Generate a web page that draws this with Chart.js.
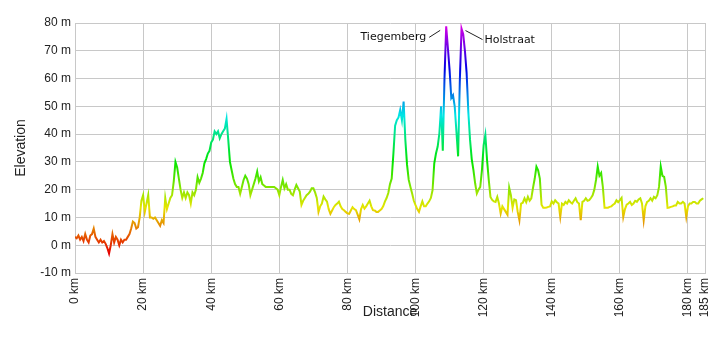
<!DOCTYPE html>
<html>
<head>
<meta charset="utf-8">
<script src="https://cdn.jsdelivr.net/npm/chart.js@4"></script>
<style>
  html, body { margin: 0; padding: 0; background: #fff; }
  #wrap { width: 720px; height: 344px; position: relative; }
</style>
</head>
<body>
<div id="wrap"><canvas id="chart"></canvas></div>
<script>
// Elevation profile, one value every half kilometre
const STEP_KM = 0.5;
const elevation = [
    3, 2.5, 3.5, 2, 3, 1.5, 4, 2, 1, 3.5, 4, 6, 3, 2, 1, 2, 1, 1.5, 0.5, -1,
    -3, 0, 4, 1, 3, 2, 0, 2, 1, 2, 2, 3, 4, 6, 8.5, 8, 6, 6.5, 10, 16,
    18, 12, 15, 18, 10, 10, 9.5, 10, 9, 8, 7, 9, 8, 17, 13, 15, 17, 18, 23, 30,
    28, 24, 20, 17, 19, 17, 19, 18, 15, 19, 18, 20, 24.5, 22.5, 24, 26, 29.5, 31, 33, 34,
    37, 38, 41, 40, 41, 38.5, 40, 41, 42, 45.5, 38, 30, 27, 24, 22, 21, 21, 18.5, 21, 23.5,
    25, 24, 22, 18, 20, 22, 24, 26.5, 23, 24.5, 22, 21.5, 21, 21, 21, 21, 21, 21, 20.5, 20,
    18, 21, 23.5, 20.5, 22, 20, 20, 18.5, 18, 20, 21.7, 20.5, 19.3, 14.5, 16, 17, 18, 18.5, 19.3, 20.5,
    20.5, 19, 17, 12, 14, 15, 17.5, 16.5, 15.7, 13, 11.3, 12.5, 13.7, 14.5, 15, 15.7, 14, 13, 12.6, 12,
    11.5, 11.3, 12.5, 13.7, 13, 12.6, 11, 9.3, 13, 14.5, 13.2, 14, 15, 16, 14, 12.6, 12.5, 12, 12, 12.5,
    13, 14, 15.7, 17, 18.8, 22, 24, 33, 43, 45, 46, 48.7, 45, 51.7, 38, 29, 23.5, 21, 18.6, 16,
    14.4, 13, 12, 14, 15.8, 14, 14, 15, 15.8, 17, 19.8, 29.5, 33, 35.5, 40.3, 50, 34, 60, 78.8, 71,
    63, 53, 54, 50, 41, 32, 59, 78, 76, 70, 62, 48, 38, 31, 27, 22.3, 18.6, 20, 21, 27,
    36, 39.7, 30.7, 23.5, 17.4, 16.3, 15.8, 15.6, 17.4, 15, 11.4, 14, 13, 12, 11, 20.7, 18, 13.5, 16.5, 16.2,
    12, 9, 15, 15.3, 16.9, 15.5, 17.4, 16, 16.9, 20.7, 24, 28.3, 27, 24, 14.6, 13.5, 13.5, 13.6, 13.8, 14,
    15.8, 15, 16.2, 15.5, 15, 10.2, 15, 14.5, 15.6, 15, 16.2, 15.5, 15, 16, 16.9, 15.5, 15, 9, 15.6, 16,
    16.9, 16, 16.2, 17, 18, 20, 23.5, 28.3, 25, 26, 21, 13.5, 13.5, 13.5, 13.8, 14, 14.6, 15, 16.2, 15.5,
    16.2, 17, 10.2, 13, 14.6, 15, 15.6, 14.5, 15, 16, 15.6, 16.5, 16.9, 15, 9, 14, 15.6, 16, 16.9, 16,
    17.4, 16.9, 18, 21, 28.3, 25, 24.6, 21, 13.5, 13.6, 13.8, 14, 14.3, 14.3, 15.6, 15, 15, 15.6, 15, 10.2,
    14, 15, 15, 15.6, 15.6, 15, 15, 16, 16.5, 16.9
];

const xTicks = [0, 20, 40, 60, 80, 100, 120, 140, 160, 180, 185];
const yMin = -10;
const yMax = 80;

// named summits
const peakNames = ['Tiegemberg', 'Holstraat'];
const peakKm = [109, 113.5];
const peakElev = [78.8, 78];
const peakSide = ['left', 'right'];

const points = elevation.map((e, i) => ({ x: i * STEP_KM, y: e }));

// colour runs from red at the lowest point to magenta at the highest
const colourLow = -3;
const colourHigh = 80;

let gradCache = null;
function lineGradient(context) {
    const chart = context.chart;
    const area = chart.chartArea;
    if (!area) return '#e00000';
    const y = chart.scales.y;
    const y0 = y.getPixelForValue(colourLow);
    const y1 = y.getPixelForValue(colourHigh);
    if (gradCache && gradCache.y0 === y0 && gradCache.y1 === y1) return gradCache.g;
    const g = chart.ctx.createLinearGradient(0, y0, 0, y1);
    for (let h = 0; h <= 300; h += 15) {
        g.addColorStop(h / 300, `hsl(${h}, 100%, 45%)`);
    }
    gradCache = { y0, y1, g };
    return g;
}

const peakLabels = {
    id: 'peakLabels',
    afterDatasetsDraw(chart) {
        const { ctx, scales } = chart;
        ctx.save();
        ctx.font = '11px "DejaVu Sans"';
        ctx.fillStyle = '#111';
        ctx.strokeStyle = '#222';
        ctx.lineWidth = 1;
        ctx.textBaseline = 'middle';
        peakNames.forEach((name, i) => {
            const px = scales.x.getPixelForValue(peakKm[i]);
            const py = scales.y.getPixelForValue(peakElev[i]);
            ctx.beginPath();
            if (peakSide[i] === 'left') {
                ctx.moveTo(px - 6, py + 4);
                ctx.lineTo(px - 17, py + 11);
                ctx.stroke();
                ctx.textAlign = 'right';
                ctx.fillText(name, px - 20, py + 11);
            } else {
                ctx.moveTo(px + 4, py + 2);
                ctx.lineTo(px + 21, py + 11);
                ctx.stroke();
                ctx.textAlign = 'left';
                ctx.fillText(name, px + 23, py + 12);
            }
        });
        ctx.restore();
    }
};

const gridColor = '#c8c8c8';
const textColor = '#222';

new Chart(document.getElementById('chart'), {
    type: 'line',
    data: {
        datasets: [{
            data: points,
            borderColor: lineGradient,
            borderWidth: 2,
            pointRadius: 0,
            tension: 0,
            fill: false
        }]
    },
    options: {
        responsive: true,
        maintainAspectRatio: false,
        animation: false,
        parsing: false,
        layout: { padding: { top: 23, right: 15, left: 0, bottom: 0 } },
        plugins: {
            legend: { display: false },
            tooltip: { enabled: false }
        },
        scales: {
            x: {
                type: 'linear',
                min: 0,
                max: 185,
                afterBuildTicks: scale => {
                    scale.ticks = xTicks.map(v => ({ value: v }));
                },
                afterFit: scale => {
                    scale.height = 71;
                    scale.paddingLeft = 0;
                    scale.paddingRight = 0;
                },
                grid: { color: gridColor, drawTicks: false },
                border: { color: gridColor },
                ticks: {
                    autoSkip: false,
                    maxRotation: 90,
                    minRotation: 90,
                    padding: 5,
                    color: textColor,
                    font: { family: '"Liberation Sans", Arial', size: 12 },
                    callback: v => v + ' km'
                },
                title: {
                    display: true,
                    text: 'Distance',
                    color: textColor,
                    font: { family: '"Liberation Sans", Arial', size: 14 },
                    padding: { top: 0, bottom: 23 }
                }
            },
            y: {
                min: yMin,
                max: yMax,
                afterFit: scale => { scale.width = 75; },
                grid: { color: gridColor, drawTicks: false },
                border: { color: gridColor },
                ticks: {
                    stepSize: 10,
                    padding: 4,
                    color: textColor,
                    font: { family: '"Liberation Sans", Arial', size: 12 },
                    callback: v => v + ' m'
                },
                title: {
                    display: true,
                    text: 'Elevation',
                    color: textColor,
                    font: { family: '"Liberation Sans", Arial', size: 14 },
                    padding: { top: 13, bottom: 0 }
                }
            }
        }
    },
    plugins: [peakLabels]
});
</script>
</body>
</html>
